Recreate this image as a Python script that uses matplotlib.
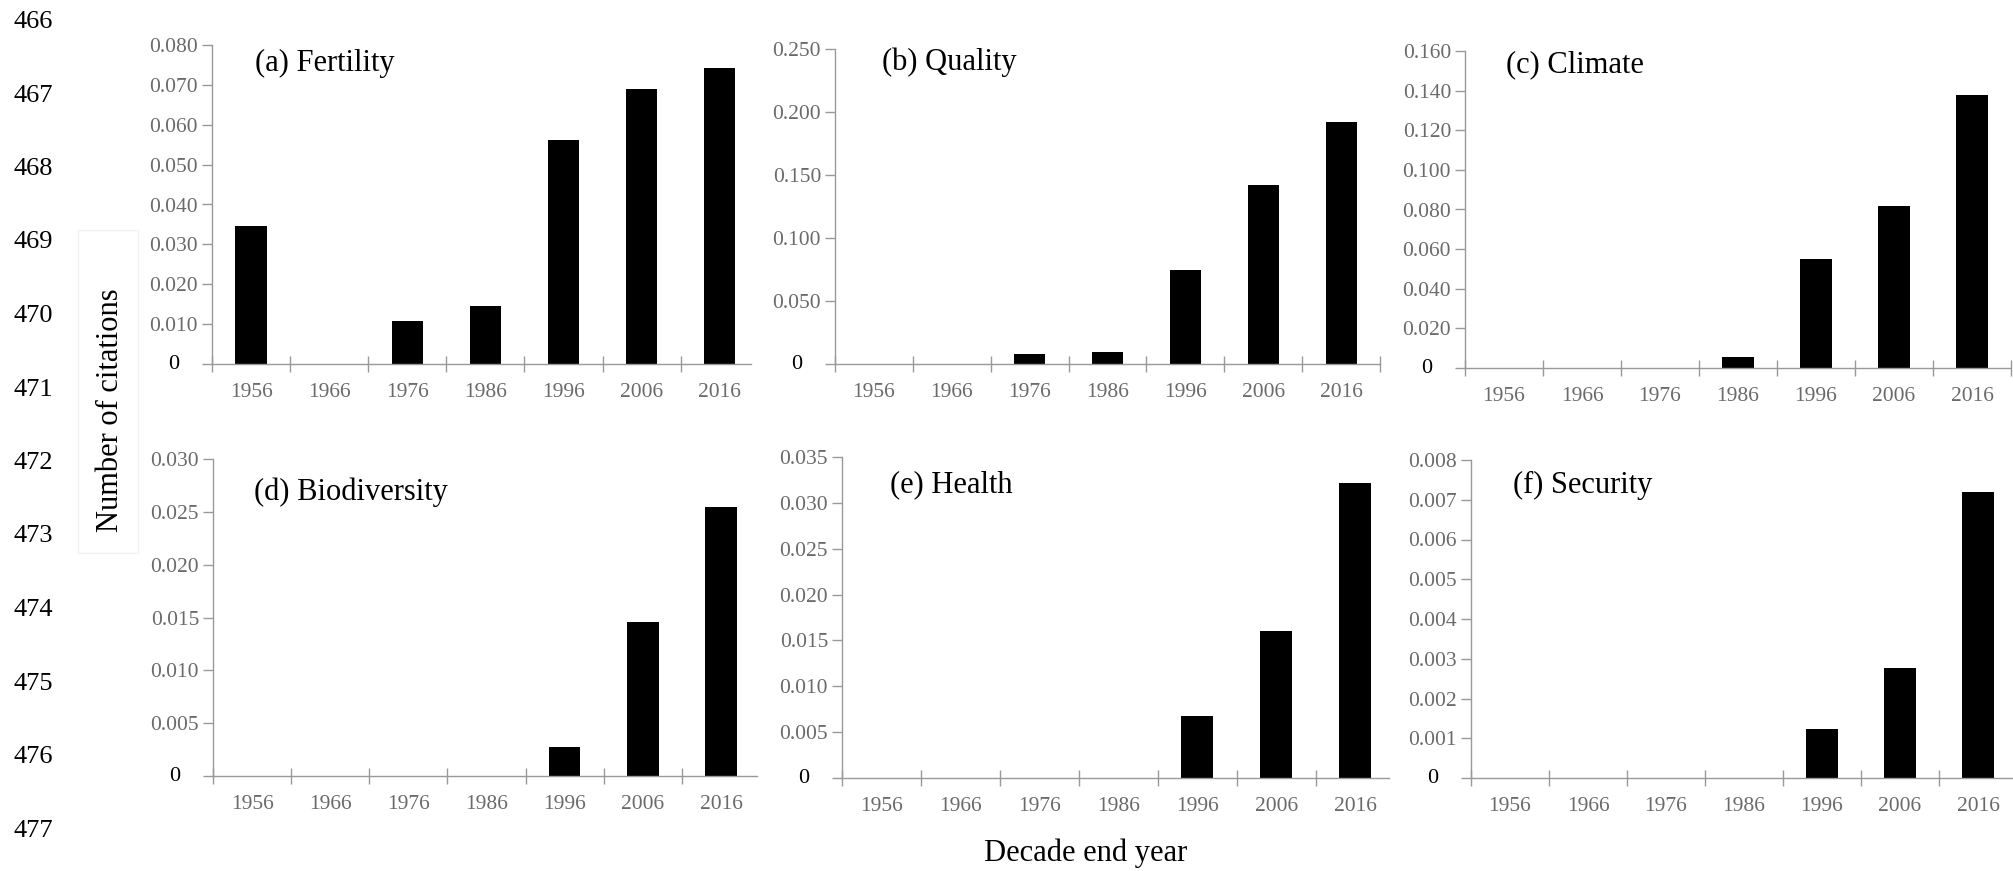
import matplotlib
matplotlib.use("Agg")
import matplotlib.pyplot as plt
from matplotlib.patches import Rectangle

plt.rcParams['font.family'] = ['Liberation Serif', 'DejaVu Serif']

years = ['1956', '1966', '1976', '1986', '1996', '2006', '2016']

fertility = [0.0345, 0.0, 0.0109, 0.0145, 0.0561, 0.0689, 0.0743]
quality = [0.0, 0.0, 0.0080, 0.0093, 0.0743, 0.1420, 0.1924]
climate = [0.0, 0.0, 0.0, 0.0054, 0.0549, 0.0819, 0.1380]
biodiversity = [0.0, 0.0, 0.0, 0.0, 0.00278, 0.01453, 0.02545]
health = [0.0, 0.0, 0.0, 0.0, 0.00672, 0.01606, 0.0322]
security = [0.0, 0.0, 0.0, 0.0, 0.00123, 0.00276, 0.0072]

titles = ['(a) Fertility', '(b) Quality', '(c) Climate',
          '(d) Biodiversity', '(e) Health', '(f) Security']
series = [fertility, quality, climate, biodiversity, health, security]
ymax = [0.080, 0.250, 0.160, 0.030, 0.035, 0.008]
ystep = [0.010, 0.050, 0.020, 0.005, 0.005, 0.001]

line_numbers = list(range(466, 478))

W, H = 2013, 871
fig = plt.figure(figsize=(W / 100, H / 100), dpi=100)

# axes boxes in pixels: left, right, top, bottom
boxes = [(212, 751, 45, 364), (835, 1380, 49, 364), (1465, 2011, 51, 368),
         (213, 757, 459, 776), (842, 1389, 457, 778), (1471, 2017, 460, 778)]
# right end of the category axis (first panel is drawn a bit short)
xright = [6.4, 6.5, 6.5, 6.46, 6.43, 6.5]
# title positions in axes coords
tpos = [(0.08, 0.943), (0.086, 0.958), (0.075, 0.956),
        (0.0755, 0.896), (0.088, 0.913), (0.077, 0.921)]

grey = '#999999'
labgrey = '#6a6a6a'

for i in range(6):
    l, r, t, b = boxes[i]
    ax = fig.add_axes([l / W, 1 - b / H, (r - l) / W, (b - t) / H])
    x = list(range(len(years)))
    ax.bar(x, series[i], width=0.4, color='black')
    ax.set_xlim(-0.5, xright[i])
    ax.set_ylim(0, ymax[i])
    for s in ['top', 'right']:
        ax.spines[s].set_visible(False)
    for s in ['left', 'bottom']:
        ax.spines[s].set_color(grey)
        ax.spines[s].set_linewidth(1.0)

    n = int(round(ymax[i] / ystep[i]))
    yt = [k * ystep[i] for k in range(n + 1)]
    ax.set_yticks(yt)
    ax.set_yticklabels([''] + ['%.3f' % v for v in yt[1:]])
    ax.tick_params(axis='y', direction='out', length=7, width=1, color=grey,
                   labelsize=15.5, labelcolor=labgrey, pad=3)
    ax.text(-38 / (r - l), 0, '0', transform=ax.get_yaxis_transform(),
            ha='center', va='center', fontsize=16, color='black')

    ax.set_xticks(x)
    ax.set_xticklabels(years)
    ax.set_xticks([k - 0.5 for k in range(8) if k - 0.5 <= xright[i]],
                  minor=True)
    ax.tick_params(axis='x', which='major', length=0, labelsize=15.5,
                   labelcolor=labgrey, pad=14)
    ax.tick_params(axis='x', which='minor', direction='inout', length=12,
                   width=1, color=grey)

    ax.text(tpos[i][0], tpos[i][1], titles[i], transform=ax.transAxes,
            ha='left', va='center', fontsize=22, color='black')

# document line numbers down the left margin
for k, num in enumerate(line_numbers):
    fig.text(33 / W, 1 - (22 + 73.5 * k) / H, str(num), ha='center',
             va='center', fontsize=19, color='black')

# faint box behind the shared y label
fig.patches.append(Rectangle((78 / W, 1 - 553 / H), 60 / W, 323 / H,
                             transform=fig.transFigure, fill=True,
                             facecolor='white', edgecolor='#f2f2f2', lw=1))
fig.text(110 / W, 1 - 410 / H, 'Number of citations', rotation=90,
         ha='center', va='center', fontsize=22, color='black')
fig.text(1086 / W, 1 - 853 / H, 'Decade end year', ha='center', va='center',
         fontsize=22, color='black')

fig.savefig('out.png', dpi=100)
